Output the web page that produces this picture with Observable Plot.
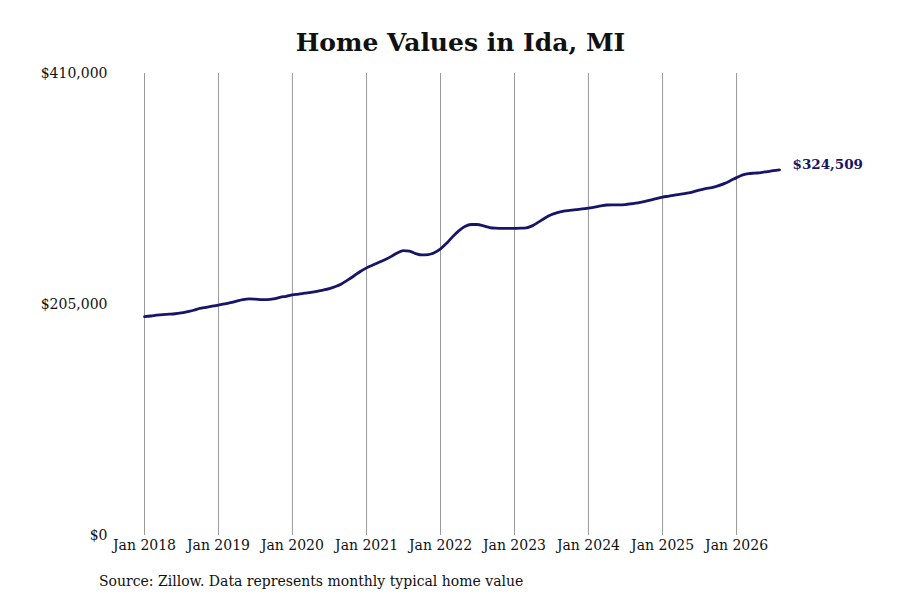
<!DOCTYPE html>
<html>
<head>
<meta charset="utf-8">
<script src="https://cdn.jsdelivr.net/npm/d3@7"></script>
<script src="https://cdn.jsdelivr.net/npm/@observablehq/plot@0.6"></script>
<style>
  body { margin: 0; background: #fff; font-family: "DejaVu Serif", serif; }
  #wrap { position: relative; width: 900px; height: 600px; }
  #title { position: absolute; left: 0; top: 28px; width: 921px; text-align: center;
           font-size: 25px; font-weight: bold; line-height: 30px; color: #111; }
  #caption { position: absolute; left: 99px; top: 573px; font-size: 14px; line-height: 16px; color: #111; }
</style>
</head>
<body>
<div id="wrap">
  <div id="chart"></div>
  <div id="title">Home Values in Ida, MI</div>
  <div id="caption">Source: Zillow. Data represents monthly typical home value</div>
</div>
<script>
const chartTitle = "Home Values in Ida, MI";
const startMonth = "2018-01-01";
// Monthly typical home value, Jan 2018 – Aug 2026
const values = [
  194300, 194800, 195500, 196100, 196400, 196800, 197600, 198700, 199900, 201500, 202500, 203500,
  204500, 205500, 206600, 208000, 209300, 210000, 209800, 209400, 209300, 210000, 211400, 212300,
  213500, 214200, 215000, 215800, 216700, 217800, 219100, 221000, 223500, 226800, 230500, 234300,
  237500, 240000, 242300, 244800, 247500, 250700, 252900, 252400, 250200, 249000, 249300, 251000,
  254400, 259500, 265000, 270300, 274200, 276000, 276000, 274800, 273300, 272700, 272500, 272500,
  272600, 272700, 273100, 275000, 278300, 281800, 284600, 286600, 287800, 288500, 289200, 289800,
  290600, 291500, 292500, 293300, 293400, 293400, 293700, 294400, 295200, 296300, 297600, 299000,
  300300, 301200, 302100, 302900, 303800, 305000, 306500, 307800, 308800, 310300, 312300, 314800,
  317600, 320000, 321200, 321600, 322000, 322900, 323800, 324509
];
const yTicks = [0, 205000, 410000];
const xTickYears = [2018, 2019, 2020, 2021, 2022, 2023, 2024, 2025, 2026];

const navy = "#17156a";
const start = new Date(startMonth);
const data = values.map((v, i) => ({ date: d3.utcMonth.offset(start, i), value: v }));
const xTicks = xTickYears.map(y => new Date(Date.UTC(y, 0, 1)));
const last = data[data.length - 1];
const money = d => "$" + d3.format(",")(d);

const plot = Plot.plot({
  width: 900,
  height: 600,
  marginTop: 73,
  marginBottom: 65,
  marginLeft: 144,
  marginRight: 121,
  style: { fontFamily: "DejaVu Serif", fontSize: "14px", color: "#111", background: "#fff" },
  x: {
    type: "utc",
    domain: [data[0].date, last.date],
    ticks: xTicks,
    tickFormat: d3.utcFormat("%b %Y"),
    tickSize: 0,
    tickPadding: 5,
    label: null
  },
  y: {
    domain: [0, 410000],
    ticks: yTicks,
    tickFormat: money,
    tickSize: 0,
    tickPadding: 37,
    label: null
  },
  marks: [
    Plot.gridX(xTicks, { stroke: "#999", strokeOpacity: 1, strokeWidth: 1 }),
    Plot.line(data, { x: "date", y: "value", stroke: navy, strokeWidth: 2.8, curve: "monotone-x" }),
    Plot.text([last], { x: "date", y: "value", text: d => money(d.value), dx: 13, dy: -5,
      textAnchor: "start", fontWeight: "bold", fill: navy, fontSize: 13.5 })
  ]
});
document.getElementById("chart").appendChild(plot);
</script>
</body>
</html>
